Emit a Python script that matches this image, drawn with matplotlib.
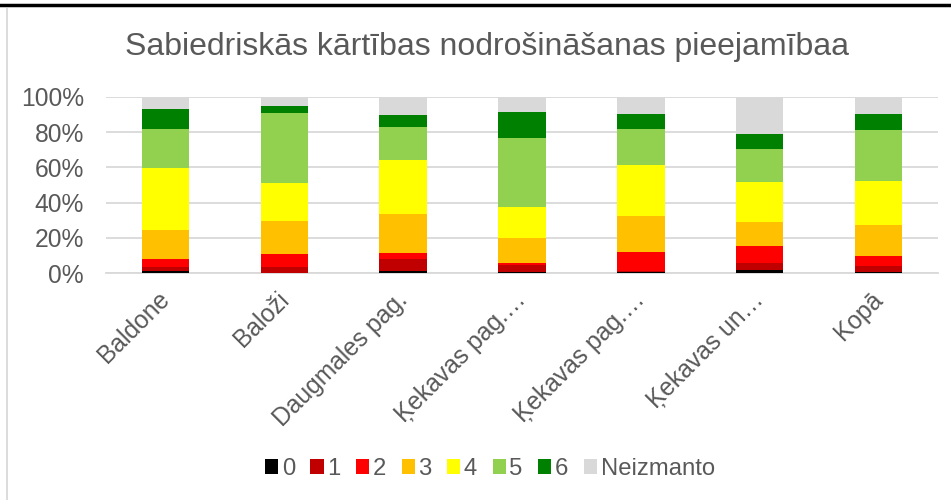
import matplotlib
matplotlib.use("Agg")
import matplotlib.pyplot as plt
import matplotlib.transforms as mtransforms
from matplotlib.lines import Line2D
import numpy as np

plt.rcParams['font.family'] = ['Liberation Sans', 'DejaVu Sans']

categories = ['Baldone', 'Baloži', 'Daugmales pag.', 'Ķekavas pag.…',
              'Ķekavas pag.…', 'Ķekavas un…', 'Kopā']
series_names = ['0', '1', '2', '3', '4', '5', '6', 'Neizmanto']
colors = ['#000000', '#C00000', '#FF0000', '#FFC000', '#FFFF00',
          '#92D050', '#008000', '#D9D9D9']

# shares in % per category
s0 = [1.3, 0.0, 1.3, 0.5, 0.8, 1.9, 0.6]
s1 = [2.5, 3.4, 6.6, 4.0, 0.3, 4.1, 3.4]
s2 = [4.1, 7.4, 3.6, 1.5, 10.8, 9.5, 5.8]
s3 = [16.6, 18.8, 21.9, 14.2, 20.6, 13.6, 17.6]
s4 = [34.9, 21.3, 30.6, 17.3, 28.6, 22.8, 24.9]
s5 = [22.3, 40.0, 18.8, 39.1, 20.4, 18.3, 28.8]
s6 = [11.1, 4.0, 6.6, 14.7, 8.9, 8.9, 9.3]
s_neiz = [7.2, 5.1, 10.6, 8.7, 9.6, 20.9, 9.6]

series = [s0, s1, s2, s3, s4, s5, s6, s_neiz]

fig = plt.figure(figsize=(9.51, 5.0), dpi=100)
ax = fig.add_axes([0.1115, 0.4534, 0.8748, 0.3532])

x = np.arange(len(categories))
bottom = np.zeros(len(categories))
for name, vals, col in zip(series_names, series, colors):
    v = np.array(vals) / 100.0
    ax.bar(x, v, width=0.4, bottom=bottom, color=col, label=name, zorder=3)
    bottom += v

ax.set_xlim(-0.5, len(categories) - 0.5)
ax.set_ylim(0, 1.0)
ax.set_yticks(np.arange(0, 1.01, 0.2))
ax.set_yticklabels([f'{int(round(t * 100))}%' for t in np.arange(0, 1.01, 0.2)])
ax.yaxis.grid(True, color='#D9D9D9', linewidth=1.3, zorder=0)
ax.set_axisbelow(True)
for side in ['top', 'right', 'left']:
    ax.spines[side].set_visible(False)
ax.spines['bottom'].set_color('#D9D9D9')
ax.spines['bottom'].set_linewidth(1.3)
ax.tick_params(axis='both', length=0, colors='#595959', labelsize=17.7)
ax.tick_params(axis='y', pad=16)
ax.set_xticks(x)
ax.set_xticklabels(categories, rotation=45, ha='right', rotation_mode='anchor')
ax.tick_params(axis='x', pad=10)

# nudge rotated labels a little left, like the original
shift = mtransforms.ScaledTranslation(-8 / 100, 0, fig.dpi_scale_trans)
for lbl in ax.get_xticklabels():
    lbl.set_transform(lbl.get_transform() + shift)

fig.text(0.512, 0.906, 'Sabiedriskās kārtības nodrošināšanas pieejamībaa',
         ha='center', va='center', fontsize=23, color='#595959')

fig.legend(loc='center', bbox_to_anchor=(0.515, 0.062), ncol=8, frameon=False,
           fontsize=17.2, handlelength=0.55, handleheight=0.55,
           handletextpad=0.15, columnspacing=0.65, labelcolor='#595959')

# chart border bits visible in the crop
fig.add_artist(Line2D([0, 1], [0.99, 0.99], color='black', linewidth=2.5,
                      transform=fig.transFigure))
fig.add_artist(Line2D([0.0075, 0.0075], [0, 0.982], color='#D9D9D9', linewidth=1.3,
                      transform=fig.transFigure))

fig.savefig('out.png', dpi=100)
